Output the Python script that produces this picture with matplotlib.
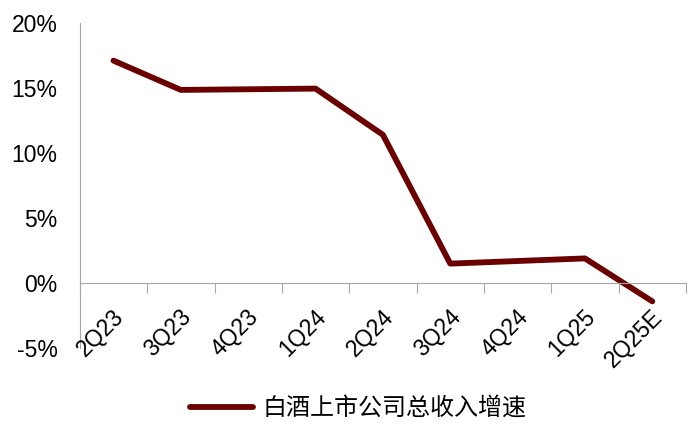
import matplotlib
matplotlib.use('Agg')
import matplotlib.pyplot as plt
from matplotlib.ticker import FuncFormatter

plt.rcParams['font.family'] = ['Liberation Sans', 'Noto Sans CJK SC', 'DejaVu Sans']

quarters = ['2Q23', '3Q23', '4Q23', '1Q24', '2Q24', '3Q24', '4Q24', '1Q25', '2Q25E']
growth = [17.1, 14.85, 14.9, 14.95, 11.4, 1.5, 1.7, 1.9, -1.4]
series_name = '白酒上市公司总收入增速'

fig = plt.figure(figsize=[7, 4.32], dpi=100)
ax = fig.add_axes([0.114, 0.194, 0.866, 0.753])

x = list(range(len(quarters)))
ax.plot(x, growth, color='#6B0000', linewidth=4.2, solid_capstyle='round',
        solid_joinstyle='round', label=series_name)

ax.set_xlim(-0.5, len(quarters) - 0.5)
ax.set_ylim(-5, 20)
ax.set_yticks([-5, 0, 5, 10, 15, 20])
ax.yaxis.set_major_formatter(FuncFormatter(lambda v, p: '%d%%' % v))
ax.tick_params(axis='y', length=0, labelsize=16.5, pad=16)

for s in ['top', 'right']:
    ax.spines[s].set_visible(False)
ax.spines['left'].set_color('#A6A6A6')
ax.spines['bottom'].set_color('#A6A6A6')
ax.spines['bottom'].set_position(('data', 0))

# boundaries ticks on the zero line
ax.set_xticks([i - 0.5 for i in range(len(quarters) + 1)])
ax.set_xticklabels([])
ax.tick_params(axis='x', length=7, color='#A6A6A6', direction='out')

for i, q in enumerate(quarters):
    ax.text(i - 0.02, -1.7, q, rotation=45, ha='right', va='top',
            rotation_mode='anchor', fontsize=16.5, clip_on=False)

leg = fig.legend(loc='center', bbox_to_anchor=(0.512, 1 - 408 / 432), frameon=False,
                 prop={'family': ['Noto Sans CJK SC', 'DejaVu Sans'], 'size': 17.3},
                 handlelength=2.6, handletextpad=0.4)

plt.savefig('out.png', dpi=100)
